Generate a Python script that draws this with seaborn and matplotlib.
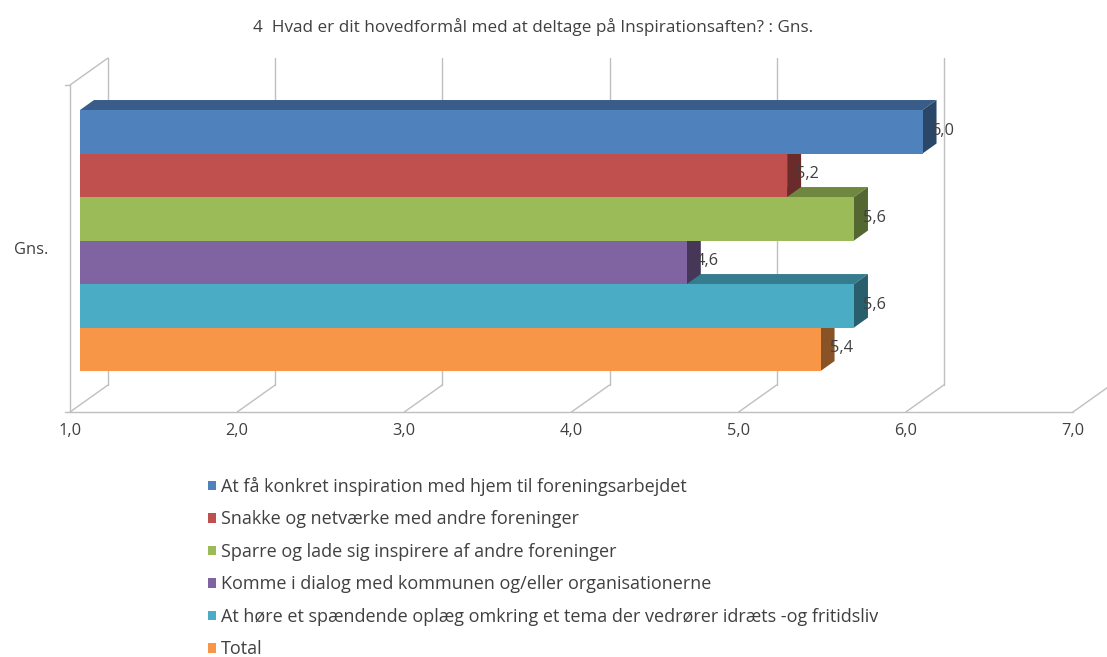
import numpy as np
import pandas as pd
import matplotlib
matplotlib.use("Agg")
import matplotlib.pyplot as plt
import seaborn as sns
from matplotlib.patches import Polygon, Patch
from matplotlib.lines import Line2D
from matplotlib import transforms as mtransforms
import matplotlib.colors as mcolors

# ---------------- data ----------------
categories = [
    "At få konkret inspiration med hjem til foreningsarbejdet",
    "Snakke og netværke med andre foreninger",
    "Sparre og lade sig inspirere af andre foreninger",
    "Komme i dialog med kommunen og/eller organisationerne",
    "At høre et spændende oplæg omkring et tema der vedrører idræts -og fritidsliv",
    "Total",
]
values = [6.04, 5.23, 5.63, 4.63, 5.63, 5.43]
colors = ["#4F81BD", "#C0504D", "#9BBB59", "#8064A2", "#4BACC6", "#F79646"]
ticks = [1, 2, 3, 4, 5, 6, 7]
tick_labels = ["1,0", "2,0", "3,0", "4,0", "5,0", "6,0", "7,0"]
title = "4  Hvad er dit hovedformål med at deltage på Inspirationsaften? : Gns."
group_label = "Gns."

# ---------------- style ----------------
sns.set_theme(style="white")
plt.rcParams["font.family"] = ["Open Sans", "DejaVu Sans"]
TXT = "#404040"
GRID = "#BFBFBF"
FS = 11.8

W, H = 1107, 657
fig = plt.figure(figsize=(W / 100, H / 100), dpi=100)
L, R, T, B = 70, 1073, 85, 412          # front plane (px)
ax = fig.add_axes([L / W, 1 - B / H, (R - L) / W, (B - T) / H])

df = pd.DataFrame({"cat": categories, "val": values})
sns.barplot(data=df, x="val", y="cat", hue="cat", order=categories,
            hue_order=categories, palette=colors, orient="h", width=1.0,
            saturation=1, legend=False, ax=ax)

ax.set_xlim(1, 7)
ax.set_ylim(6.28, -1.236)
for s in ax.spines.values():
    s.set_visible(False)
ax.set_yticks([])
ax.set_ylabel("")
ax.set_xlabel("")
ax.set_xticks(ticks, tick_labels)
ax.tick_params(axis="x", length=0, pad=8, labelsize=FS, labelcolor=TXT)
ax.patch.set_alpha(0)

BAR_OFF = np.array([10.0, 7.0])     # bar front face shift in depth (dots)
DEPTH = np.array([14.0, 10.0])      # bar depth (dots)
WALL = np.array([38.0, 27.0])       # chart box depth (dots)
BASE = ticks[0]

bar_tr = mtransforms.offset_copy(ax.transData, fig=fig, x=BAR_OFF[0], y=BAR_OFF[1], units="dots")
ident = mtransforms.IdentityTransform()

def disp(x, y):
    return ax.transData.transform((x, y)) + BAR_OFF

def shade(c, f):
    r, g, b = mcolors.to_rgb(c)
    return (r * f, g * f, b * f)

n = len(categories)
for p in ax.patches:
    i = int(round(p.get_y() + p.get_height() / 2))
    v = p.get_width()
    c = colors[i]
    z = 10 + (n - 1 - i) * 3
    p.set_x(BASE)
    p.set_width(v - BASE)
    p.set_transform(bar_tr)
    p.set_clip_on(False)
    p.set_linewidth(0)
    p.set_zorder(z + 2)
    tl = disp(BASE, i - 0.5)
    tr = disp(v, i - 0.5)
    br = disp(v, i + 0.5)
    top = Polygon([tl, tr, tr + DEPTH, tl + DEPTH], closed=True, transform=ident,
                  fc=shade(c, 0.72), lw=0, zorder=z, clip_on=False)
    side = Polygon([tr, br, br + DEPTH, tr + DEPTH], closed=True, transform=ident,
                   fc=shade(c, 0.55), lw=0, zorder=z + 1, clip_on=False)
    ax.add_artist(top)
    ax.add_artist(side)
    lab_tr = mtransforms.offset_copy(ax.transData, fig=fig, x=BAR_OFF[0] + 9,
                                     y=BAR_OFF[1] + 1, units="dots")
    ax.text(v, i, f"{v:.1f}".replace(".", ","), transform=lab_tr, ha="left",
            va="center", fontsize=FS, color=TXT, zorder=40, clip_on=False)

# ---------------- 3D box lines ----------------
blend = mtransforms.blended_transform_factory(ax.transData, ax.transAxes)

def line(p0, p1):
    ax.add_artist(Line2D([p0[0], p1[0]], [p0[1], p1[1]], transform=ident,
                         color=GRID, lw=1.0, zorder=1, clip_on=False))

for k in ticks:
    fb = blend.transform((k, 0))
    ft = blend.transform((k, 1))
    line(fb, fb + WALL)
    line(fb + WALL, ft + WALL)
fb0 = ax.transAxes.transform((0, 0))
fb1 = ax.transAxes.transform((1, 0))
ft0 = ax.transAxes.transform((0, 1))
line(fb0, fb1)
line(fb0, ft0)
line(ft0, ft0 + WALL)
line(ft0 - np.array([5, 0]), ft0)
line(fb0 - np.array([5, 0]), fb0)

# ---------------- texts ----------------
fig.text(533 / W, 1 - 27 / H, title, ha="center", va="center", fontsize=12.3, color=TXT)
fig.text(31 / W, 1 - 250 / H, group_label, ha="center", va="center", fontsize=FS, color=TXT)

handles = [Patch(facecolor=c, edgecolor="none") for c in colors]
fig.legend(handles=handles, labels=categories, loc="upper left",
           bbox_to_anchor=(208 / W, 1 - 477 / H), frameon=False, fontsize=13,
           labelspacing=0.8, handlelength=0.45, handleheight=0.45,
           handletextpad=0.25, borderpad=0, borderaxespad=0, labelcolor=TXT)

fig.savefig("out.png", dpi=100)
